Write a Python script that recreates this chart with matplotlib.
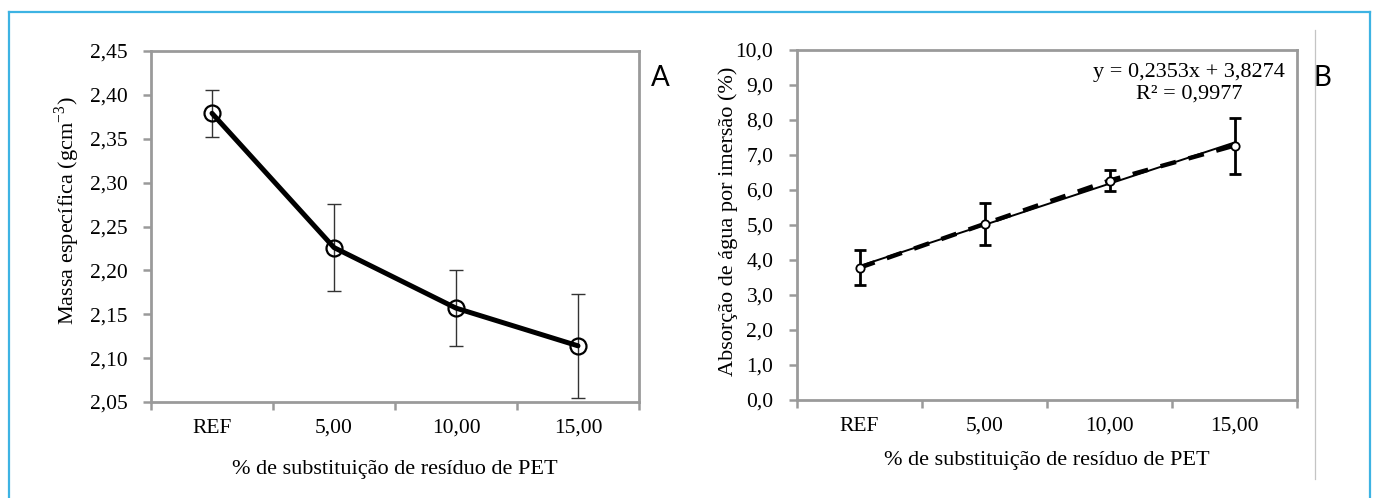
import matplotlib
matplotlib.use("Agg")
import matplotlib.pyplot as plt
from matplotlib.lines import Line2D
import numpy as np

plt.rcParams['font.family'] = ['Liberation Serif', 'DejaVu Serif']
plt.rcParams['mathtext.fontset'] = 'custom'
plt.rcParams['mathtext.rm'] = 'Liberation Serif'

# ---- data ----
categories = ["REF", "5,00", "10,00", "15,00"]
pct = [0, 5, 10, 15]

massa = [2.379, 2.226, 2.157, 2.114]
massa_err = [0.027, 0.050, 0.043, 0.059]
massa_yticks = [2.05, 2.10, 2.15, 2.20, 2.25, 2.30, 2.35, 2.40, 2.45]

absorcao = [3.78, 5.03, 6.27, 7.27]
absorcao_err = [0.50, 0.61, 0.29, 0.80]
absorcao_yticks = [0, 1, 2, 3, 4, 5, 6, 7, 8, 9, 10]
trend_slope = 0.2353
trend_intercept = 3.8274

W, H = 1375, 498
fig = plt.figure(figsize=(W / 100, H / 100), dpi=100)

spine_col = "#9a9a9a"
FS_TICK = 15.5
FS_LAB = 16


def style_axes(ax, yticks, fmt):
    n = len(categories)
    xs = np.arange(n)
    ax.set_xlim(-0.5, n - 0.5)
    ax.set_xticks(np.arange(-0.5, n, 1.0))
    ax.set_xticklabels([""] * (n + 1))
    ax.set_xticks(xs, minor=True)
    ax.set_xticklabels(categories, minor=True, fontsize=FS_TICK)
    ax.tick_params(axis='x', which='major', length=6, width=1.8, color=spine_col, direction='out')
    ax.tick_params(axis='x', which='minor', length=0, pad=12)
    ax.set_yticks(yticks)
    ax.set_yticklabels([fmt(v).replace('.', ',') for v in yticks], fontsize=FS_TICK)
    ax.set_ylim(yticks[0], yticks[-1])
    ax.tick_params(axis='y', length=6, width=1.8, color=spine_col, direction='out', pad=11)
    for s in ax.spines.values():
        s.set_color(spine_col)
        s.set_linewidth(2.0)


# ---- Panel A ----
axA = fig.add_axes([151 / W, 1 - 402 / H, 488 / W, 351 / H])
style_axes(axA, massa_yticks, lambda v: f"{v:.2f}")
xs = np.arange(len(categories))
axA.errorbar(xs, massa, yerr=massa_err, fmt='none', ecolor='#333333',
             elinewidth=1.0, capsize=4.8, capthick=1.0, zorder=2)
axA.plot(xs, massa, color='black', lw=3.6, solid_capstyle='round', zorder=3)
axA.plot(xs, massa, linestyle='none', marker='o', ms=11.5, mfc='none',
         mec='black', mew=1.6, zorder=4)
axA.set_ylabel(r"Massa específica (gcm$^{\mathregular{-3}}$)", fontsize=FS_LAB)
axA.yaxis.set_label_coords((82 - 151) / 488, 0.545)
axA.set_xlabel("% de substituição de resíduo de PET", fontsize=FS_LAB)
axA.xaxis.set_label_coords(0.5, (402 - 460) / 351)

# ---- Panel B ----
axB = fig.add_axes([797 / W, 1 - 400 / H, 500 / W, 350 / H])
style_axes(axB, absorcao_yticks, lambda v: f"{v:.1f}")
trend = [trend_slope * p + trend_intercept for p in pct]
axB.plot(xs, trend, color='black', lw=1.4, zorder=3)
axB.plot(xs, absorcao, color='black', lw=3.2, linestyle=(0, (3.6, 2.9)), zorder=3)
axB.errorbar(xs, absorcao, yerr=absorcao_err, fmt='none', ecolor='black',
             elinewidth=2.0, capsize=4.5, capthick=2.0, zorder=4)
axB.plot(xs, absorcao, linestyle='none', marker='o', ms=6, mfc='white',
         mec='black', mew=1.3, zorder=5)
axB.set_ylabel("Absorção de água por imersão (%)", fontsize=FS_LAB)
axB.yaxis.set_label_coords((738 - 797) / 500, 0.51)
axB.set_xlabel("% de substituição de resíduo de PET", fontsize=FS_LAB)
axB.xaxis.set_label_coords(0.5, (400 - 451) / 350)
axB.text(1189 / W, 1 - 83.5 / H, "y = 0,2353x + 3,8274\nR² = 0,9977",
         transform=fig.transFigure, ha='center', va='center', fontsize=16,
         linespacing=1.15)

# panel letters
fig.text(660 / W, 1 - 78 / H, "A", fontsize=20, family=['Lato', 'DejaVu Sans'],
         ha='center', va='center')
fig.text(1322 / W, 1 - 78 / H, "B", fontsize=20, family=['Lato', 'DejaVu Sans'],
         ha='center', va='center')

# decorative frame and divider
cyan = "#3db3e3"
fig.add_artist(Line2D([8.5 / W, 8.5 / W], [0, 1 - 12 / H], transform=fig.transFigure, color=cyan, lw=1.6))
fig.add_artist(Line2D([8.5 / W, 1369.5 / W], [1 - 12 / H, 1 - 12 / H], transform=fig.transFigure, color=cyan, lw=1.6))
fig.add_artist(Line2D([1369.5 / W, 1369.5 / W], [0, 1 - 12 / H], transform=fig.transFigure, color=cyan, lw=1.6))
fig.add_artist(Line2D([1315 / W, 1315 / W], [1 - 479 / H, 1 - 30 / H], transform=fig.transFigure, color="#c4c4c4", lw=0.9))

fig.savefig("out.png", dpi=100)
